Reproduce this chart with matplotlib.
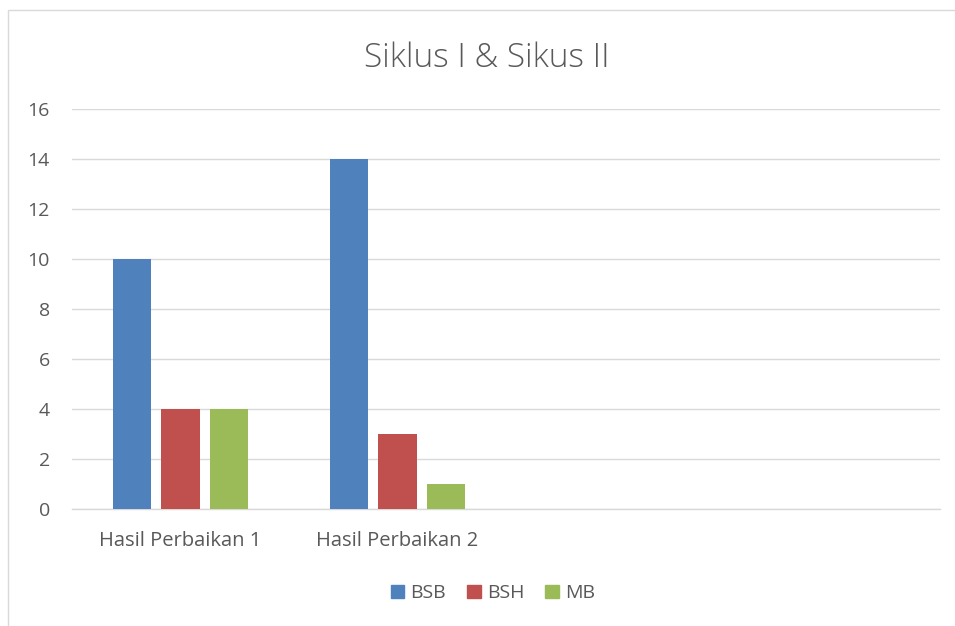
import matplotlib.pyplot as plt
import matplotlib.patches as patches
import numpy as np

categories = ["Hasil Perbaikan 1", "Hasil Perbaikan 2", "", ""]
series_names = ["BSB", "BSH", "MB"]
bsb = [10, 14, None, None]
bsh = [4, 3, None, None]
mb = [4, 1, None, None]
colors = ["#4f81bd", "#c0504d", "#9bbb59"]
yticks = [0, 2, 4, 6, 8, 10, 12, 14, 16]

plt.rcParams['font.family'] = ['Open Sans', 'DejaVu Sans']
text_color = '#595959'

fig = plt.figure(figsize=(9.55, 6.26), dpi=100)
ax = fig.add_axes([0.0754, 0.187, 0.909, 0.639])

# chart border
fig.patches.append(patches.Rectangle((0.0084, -0.01), 1.0, 0.994, transform=fig.transFigure,
                                     fill=False, edgecolor='#d9d9d9', linewidth=1.0))

x = np.arange(len(categories))
width = 0.176
offsets = [-0.222, 0.0, 0.222]
for vals, name, col, off in zip([bsb, bsh, mb], series_names, colors, offsets):
    xs = [xi + off for xi, v in zip(x, vals) if v is not None]
    vs = [v for v in vals if v is not None]
    ax.bar(xs, vs, width=width, color=col, label=name, zorder=3)

ax.set_xlim(-0.5, len(categories) - 0.5)
ax.set_ylim(0, 16)
ax.set_yticks(yticks)
ax.set_xticks(x)
ax.set_xticklabels(categories)
ax.yaxis.grid(True, color='#d9d9d9', linewidth=1.0, zorder=0)
for s in ['top', 'right', 'left']:
    ax.spines[s].set_visible(False)
ax.spines['bottom'].set_color('#d9d9d9')
ax.spines['bottom'].set_linewidth(1.0)
ax.tick_params(axis='both', length=0, labelsize=14, labelcolor=text_color)
ax.tick_params(axis='x', labelsize=14.5, pad=16)
ax.tick_params(axis='y', pad=16)

# title centred on the chart area, not the plot area
fig.text(0.51, 0.907, "Siklus I & Sikus II", fontsize=24, color=text_color,
         fontweight='light', ha='center', va='center')

handles = [patches.Patch(color=c, label=n) for c, n in zip(colors, series_names)]
fig.legend(handles=handles, loc='center', bbox_to_anchor=(0.516, 0.052), ncol=3, frameon=False,
           fontsize=14, handlelength=0.7, handleheight=0.7, handletextpad=0.3, columnspacing=1.1,
           labelcolor=text_color)

fig.savefig('out.png', dpi=100)
